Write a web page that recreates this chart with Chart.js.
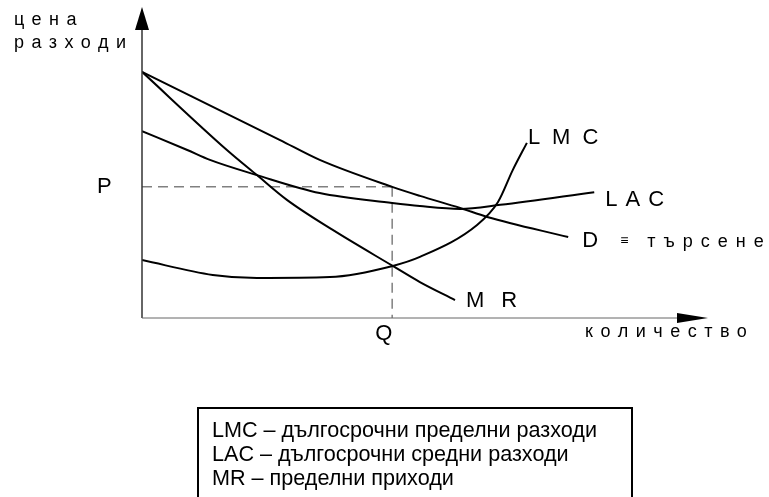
<!DOCTYPE html>
<html>
<head>
<meta charset="utf-8">
<script src="https://cdn.jsdelivr.net/npm/chart.js@4"></script>
<style>
  html, body { margin: 0; padding: 0; background: #fff; }
  #wrap { width: 769px; height: 497px; }
</style>
</head>
<body>
<div id="wrap"><canvas id="chart"></canvas></div>
<script>
// quantity (0-100) and price (0-100)
const dX   = [0, 24.4, 31.4, 44.2, 49.1, 56.2, 61.0, 75.3];
const dY   = [79.4, 57.4, 51.0, 42.3, 39.4, 35.5, 32.6, 26.1];
const mrX  = [0, 15.0, 20.3, 25.6, 33.7, 44.3, 49.1, 55.3];
const mrY  = [79.4, 54.2, 46.1, 38.1, 28.4, 16.8, 11.6, 5.8];
const lacX = [0, 8.0, 12.0, 20.3, 31.4, 44.2, 49.1, 56.2, 63.3, 79.9];
const lacY = [60.3, 54.2, 51.0, 46.1, 40.3, 37.1, 36.1, 35.2, 36.5, 40.6];
const lmcX = [0, 12.5, 20.3, 33.2, 44.3, 49.1, 59.2, 62.9, 65.5, 68.0];
const lmcY = [18.7, 13.9, 12.9, 13.2, 16.8, 19.7, 30.0, 37.4, 47.7, 56.5];
const pLevel = 42.3;
const qLevel = 44.2;

const legendLines = [
    "LMC – дългосрочни пределни разходи",
    "LAC – дългосрочни средни разходи",
    "MR – пределни приходи"
];

const toPoints = (xs, ys) => xs.map((x, i) => ({ x: x, y: ys[i] }));

const curve = (data) => ({
    data: data,
    borderColor: "#000",
    borderWidth: 2,
    pointRadius: 0,
    showLine: true,
    fill: false,
    cubicInterpolationMode: "monotone"
});

const dashed = (data) => ({
    data: data,
    borderColor: "#808080",
    borderWidth: 1.5,
    borderDash: [10, 6],
    pointRadius: 0,
    showLine: true,
    fill: false,
    tension: 0
});

const text = (ctx, s, x, y, font, spacing) => {
    ctx.font = font;
    ctx.letterSpacing = (spacing || 0) + "px";
    ctx.fillText(s, x, y);
    ctx.letterSpacing = "0px";
};

const extras = {
    id: "extras",
    afterDatasetsDraw(chart) {
        const ctx = chart.ctx;
        const a = chart.chartArea;
        const xs = chart.scales.x, ys = chart.scales.y;
        ctx.save();
        // axes
        ctx.strokeStyle = "#333";
        ctx.lineWidth = 1.5;
        ctx.beginPath();
        ctx.moveTo(a.left, a.bottom);
        ctx.lineTo(a.left, a.top + 10);
        ctx.stroke();
        ctx.strokeStyle = "#666";
        ctx.lineWidth = 1;
        ctx.beginPath();
        ctx.moveTo(a.left, a.bottom);
        ctx.lineTo(a.right - 20, a.bottom);
        ctx.stroke();
        ctx.fillStyle = "#000";
        ctx.beginPath();
        ctx.moveTo(a.left, a.top - 1);
        ctx.lineTo(a.left - 7, a.top + 22);
        ctx.lineTo(a.left + 7, a.top + 22);
        ctx.closePath();
        ctx.fill();
        ctx.beginPath();
        ctx.moveTo(a.right, a.bottom);
        ctx.lineTo(a.right - 31, a.bottom - 5);
        ctx.lineTo(a.right - 31, a.bottom + 5);
        ctx.closePath();
        ctx.fill();

        // labels
        ctx.fillStyle = "#000";
        ctx.textBaseline = "alphabetic";
        ctx.textAlign = "left";
        const big = "22px 'Liberation Sans', Arial, sans-serif";
        const small = "18px 'Liberation Sans', Arial, sans-serif";
        text(ctx, "цена", 14, 25, small, 7.5);
        text(ctx, "разходи", 14, 48, small, 7.5);
        text(ctx, "P", xs.getPixelForValue(0) - 45, ys.getPixelForValue(pLevel) + 6, big);
        text(ctx, "Q", xs.getPixelForValue(qLevel) - 17, a.bottom + 22, big);
        const last = (X, Y) => ({ x: xs.getPixelForValue(X[X.length - 1]), y: ys.getPixelForValue(Y[Y.length - 1]) });
        let p = last(lmcX, lmcY);
        text(ctx, "LMC", p.x + 1, p.y + 1, big, 12);
        p = last(lacX, lacY);
        text(ctx, "LAC", p.x + 11, p.y + 14, big, 8);
        p = last(dX, dY);
        text(ctx, "D", p.x + 14, p.y + 10, big);
        text(ctx, "≡", p.x + 52, p.y + 8, "14px 'Liberation Sans', Arial, sans-serif");
        text(ctx, "търсене", p.x + 79, p.y + 10, small, 8);
        p = last(mrX, mrY);
        text(ctx, "MR", p.x + 11, p.y + 7, big, 17);
        text(ctx, "количество", a.right - 123, a.bottom + 19, small, 7.5);

        // legend box
        ctx.strokeStyle = "#000";
        ctx.lineWidth = 2;
        ctx.strokeRect(198, 408, 434, 100);
        legendLines.forEach((s, i) => {
            text(ctx, s, 212, 437 + i * 24, "21.6px 'Liberation Sans', Arial, sans-serif");
        });
        ctx.restore();
    }
};

new Chart(document.getElementById("chart"), {
    type: "scatter",
    data: {
        datasets: [
            curve(toPoints(dX, dY)),
            curve(toPoints(mrX, mrY)),
            curve(toPoints(lacX, lacY)),
            curve(toPoints(lmcX, lmcY)),
            dashed([{ x: 0, y: pLevel }, { x: qLevel, y: pLevel }]),
            dashed([{ x: qLevel, y: pLevel }, { x: qLevel, y: 0 }])
        ]
    },
    options: {
        responsive: true,
        maintainAspectRatio: false,
        animation: false,
        layout: { padding: { left: 142, right: 61, top: 8, bottom: 179 } },
        plugins: { legend: { display: false }, tooltip: { enabled: false } },
        scales: {
            x: { type: "linear", min: 0, max: 100, display: false },
            y: { type: "linear", min: 0, max: 100, display: false }
        }
    },
    plugins: [extras]
});
</script>
</body>
</html>
